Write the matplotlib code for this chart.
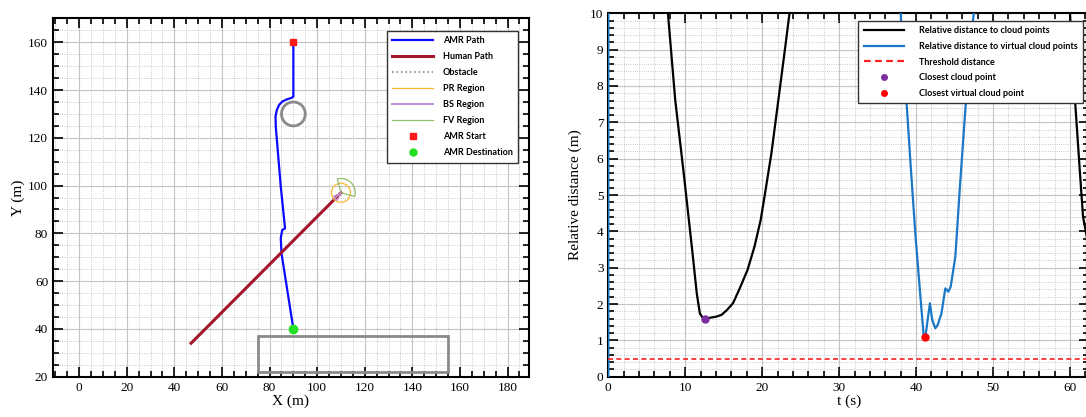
import numpy as np
import matplotlib
matplotlib.use('Agg')
import matplotlib.pyplot as plt
from matplotlib import patches
from matplotlib.lines import Line2D
from matplotlib.ticker import MultipleLocator

plt.rcParams['font.family'] = ['Liberation Serif', 'DejaVu Serif']

# left panel: paths (m)
amr_x = [90, 90, 89.2, 87.5, 85.5, 84.0, 83.0, 82.5, 82.6, 84.7, 86.5, 85.3, 84.7, 85.0, 90]
amr_y = [160, 137.3, 136.7, 136.2, 135.3, 133.8, 131.5, 128.9, 124.7, 99.6, 82.1, 81.4, 78.0, 71.7, 40]
human_x = [47, 110]
human_y = [34, 97]
amr_start = (90, 160)
amr_goal = (90, 40)
obs_circle = (90, 130, 5)          # x, y, radius
obs_rect = (75, 22, 80, 15)        # x, y, width, height
pr_radius = 4
fv_radius = 6
fv_angles = (-15, 105)
bs_radius = 3.5
bs_angles = (205, 245)

# right panel: relative distance (m) vs t (s)
cloud_t = [7.67, 8.7, 9.8, 10.9, 11.5, 11.9, 12.35, 12.6, 14.0, 14.7, 15.4, 16.2, 17.0,
           18.1, 19.0, 19.8, 20.3, 21.2, 22.1, 23.0, 23.55, 23.8,
           np.nan, 59.9, 60.0, 60.66, 61.3, 61.7, 62.5, 63.0]
cloud_d = [10.2, 7.61, 5.6, 3.49, 2.29, 1.74, 1.6, 1.6, 1.65, 1.7, 1.83, 2.02, 2.39,
           2.94, 3.58, 4.31, 4.95, 6.15, 7.61, 9.08, 10.0, 10.3,
           np.nan, 10.3, 10.0, 7.6, 5.6, 4.4, 3.5, 3.0]
virt_t = [0, 0, np.nan, 37.95, 38.0, 38.36, 38.8, 39.25, 39.9, 40.6, 41.0, 41.2, 41.5, 41.8,
          42.1, 42.5, 42.8, 43.3, 43.8, 44.2, 44.5, 45.1, 45.7, 46.4, 47.1, 47.5, 47.6]
virt_d = [0, 10.5, np.nan, 10.4, 10.0, 8.53, 7.43, 5.96, 3.94, 2.11, 1.1, 1.08, 1.56, 2.02,
          1.56, 1.33, 1.42, 1.74, 2.43, 2.34, 2.48, 3.30, 5.23, 7.34, 9.27, 10.0, 10.3]
threshold = 0.5
closest_cloud = (12.6, 1.6)
closest_virtual = (41.2, 1.08)

blue = '#0a0aff'
human_red = '#a3162d'
gray = '#8a8a8a'
pr_col = '#f7b733'
bs_col = '#c392d6'
fv_col = '#8fbf6a'
virt_blue = '#1a78c6'
leg_font = {'family': 'Lato', 'weight': 'bold', 'size': 6.5}


def style_axes(ax, xmaj, xmin, ymaj, ymin):
    ax.xaxis.set_major_locator(MultipleLocator(xmaj))
    ax.xaxis.set_minor_locator(MultipleLocator(xmin))
    ax.yaxis.set_major_locator(MultipleLocator(ymaj))
    ax.yaxis.set_minor_locator(MultipleLocator(ymin))
    ax.tick_params(which='both', direction='in', top=True, right=True, labelsize=9.5, width=1.2)
    ax.tick_params(which='major', length=7)
    ax.tick_params(which='minor', length=4)
    ax.grid(which='major', color='#c4c4c4', lw=0.8, ls='-')
    ax.grid(which='minor', color='#b8b8b8', lw=0.6, ls=':')
    ax.set_axisbelow(True)
    for s in ax.spines.values():
        s.set_linewidth(1.5)


fig = plt.figure(figsize=(10.86, 4.17), dpi=100)
ax1 = fig.add_axes([53 / 1086, 1 - 376.7 / 417, 476 / 1086, 358.3 / 417])
ax2 = fig.add_axes([608.3 / 1086, 1 - 376.7 / 417, 480.9 / 1086, 363.4 / 417])

# left panel
ax1.plot(amr_x, amr_y, color=blue, lw=1.6, zorder=4)
ax1.plot(human_x, human_y, color=human_red, lw=2.2, zorder=4)
ax1.add_patch(patches.Circle(obs_circle[:2], obs_circle[2], fill=False, ec=gray, lw=2, zorder=3))
ax1.add_patch(patches.Rectangle(obs_rect[:2], obs_rect[2], obs_rect[3], fill=False, ec=gray, lw=2, zorder=3))
hc = (human_x[-1], human_y[-1])
ax1.add_patch(patches.Circle(hc, pr_radius, fill=False, ec=pr_col, lw=0.9, zorder=5))
ax1.add_patch(patches.Wedge(hc, fv_radius, *fv_angles, fill=False, ec=fv_col, lw=0.9, zorder=5))
ax1.add_patch(patches.Wedge(hc, bs_radius, *bs_angles, fill=False, ec=bs_col, lw=0.8, hatch='////', zorder=5))
ax1.plot(*amr_start, 's', color='#ff1a1a', ms=4.5, zorder=6)
ax1.plot(*amr_goal, 'o', color='#22e022', ms=6, zorder=6)

ax1.set_xlim(-11, 189)
ax1.set_ylim(20, 170)
style_axes(ax1, 20, 5, 20, 5)
ax1.set_xlabel('X (m)', fontsize=11, labelpad=1)
ax1.set_ylabel('Y (m)', fontsize=11, labelpad=2)

h1 = [Line2D([], [], color=blue, lw=1.6),
      Line2D([], [], color=human_red, lw=2.2),
      Line2D([], [], color=gray, lw=1.2, ls=':'),
      Line2D([], [], color=pr_col, lw=0.9),
      Line2D([], [], color=bs_col, lw=1.5),
      Line2D([], [], color=fv_col, lw=0.9),
      Line2D([], [], color='#ff1a1a', marker='s', ls='', ms=4),
      Line2D([], [], color='#22e022', marker='o', ls='', ms=5)]
l1 = ['AMR Path', 'Human Path', 'Obstacle', 'PR Region', 'BS Region', 'FV Region',
      'AMR Start', 'AMR Destination']
leg = ax1.legend(h1, l1, loc='upper right', bbox_to_anchor=(0.977, 0.966), borderaxespad=0,
                 prop=leg_font, handlelength=4.5, handletextpad=1.1, labelspacing=0.78,
                 borderpad=0.6, fancybox=False, framealpha=1, edgecolor='#333333')
leg.get_frame().set_linewidth(1.0)

# right panel
ax2.plot(cloud_t, cloud_d, color='black', lw=1.6, zorder=4)
ax2.plot(virt_t, virt_d, color=virt_blue, lw=1.6, zorder=4)
ax2.axhline(threshold, color='#ff2020', lw=1.2, ls=(0, (3, 2)), zorder=4)
ax2.plot(*closest_cloud, 'o', color='#7a2f9e', ms=5, zorder=6)
ax2.plot(*closest_virtual, 'o', color='#ff0000', ms=5, zorder=6)
ax2.set_xlim(0, 62.5)
ax2.set_ylim(0, 10)
style_axes(ax2, 10, 2, 1, 0.2)
ax2.set_xlabel('t (s)', fontsize=11, labelpad=1)
ax2.set_ylabel('Relative distance (m)', fontsize=11, labelpad=6)

h2 = [Line2D([], [], color='black', lw=1.6),
      Line2D([], [], color=virt_blue, lw=1.6),
      Line2D([], [], color='#ff2020', lw=1.6, ls=(0, (3, 2))),
      Line2D([], [], color='#7a2f9e', marker='o', ls='', ms=4),
      Line2D([], [], color='#ff0000', marker='o', ls='', ms=4)]
l2 = ['Relative distance to cloud points', 'Relative distance to virtual cloud points',
      'Threshold distance', 'Closest cloud point', 'Closest virtual cloud point']
leg2 = ax2.legend(h2, l2, loc='upper right', bbox_to_anchor=(0.987, 0.98), borderaxespad=0,
                  prop=leg_font, handlelength=4.5, handletextpad=1.6, labelspacing=0.75,
                  borderpad=0.6, fancybox=False, framealpha=1, edgecolor='#333333')
leg2.get_frame().set_linewidth(1.0)

fig.savefig('out.png', dpi=100)
